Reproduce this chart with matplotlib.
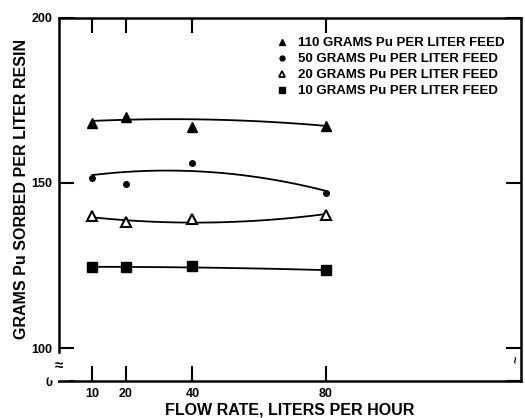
import numpy as np
import matplotlib.pyplot as plt
from matplotlib.lines import Line2D

plt.rcParams['font.family'] = ['Liberation Sans', 'DejaVu Sans']
plt.rcParams['font.weight'] = 'bold'

# flow rate, liters per hour
flow = [10, 20, 40, 80]

# grams Pu sorbed per liter resin
pu110 = [168.2, 170.0, 167.0, 167.3]
pu50 = [151.5, 149.7, 156.0, 147.0]
pu20 = [140.0, 138.2, 139.0, 140.3]
pu10 = [124.5, 124.5, 124.8, 123.6]

# hand drawn smoothing curves, read at 10, 40 and 80 L/h
curve_x = [10, 40, 80]
curve110 = [168.8, 169.3, 167.3]
curve50 = [152.4, 153.6, 147.6]
curve20 = [139.6, 138.0, 140.6]
curve10 = [124.6, 124.4, 123.6]

labels = ['110 GRAMS Pu PER LITER FEED', '50 GRAMS Pu PER LITER FEED',
          '20 GRAMS Pu PER LITER FEED', '10 GRAMS Pu PER LITER FEED']

fig = plt.figure(figsize=(5.25, 4.18), dpi=100)
ax = fig.add_axes([0.1124, 0.0885, 0.88, 0.8685])

xs = np.linspace(10, 80, 100)
for cv in [curve110, curve50, curve20, curve10]:
    c = np.polyfit(curve_x, cv, 2)
    ax.plot(xs, np.polyval(c, xs), color='black', lw=1.3)

ax.plot(flow, pu110, '^', color='black', ms=6.5, ls='none')
ax.plot(flow, pu50, 'o', color='black', ms=4, ls='none')
ax.plot(flow, pu20, '^', mfc='white', mec='black', mew=1.5, ms=6.5, ls='none')
ax.plot(flow, pu10, 's', color='black', ms=6.5, ls='none')

handles = [Line2D([], [], marker='^', color='black', ls='none', ms=5),
           Line2D([], [], marker='o', color='black', ls='none', ms=3.5),
           Line2D([], [], marker='^', mfc='white', mec='black', mew=1.3, ls='none', ms=5),
           Line2D([], [], marker='s', color='black', ls='none', ms=5)]
ax.legend(handles, labels, loc='upper right', frameon=False, fontsize=9.5,
          handlelength=0.8, handletextpad=0.8, labelspacing=0.28,
          bbox_to_anchor=(0.99, 0.98))

ax.set_xlim(0, 138.5)
ax.set_ylim(90, 200)
ax.set_xticks(flow)
ax.set_xticklabels(['10', '20', '40', '80'])
ax.set_yticks([90, 100, 150, 200])
ax.set_yticklabels(['0', '100', '150', '200'])
ax.tick_params(direction='in', length=11, width=1.5, labelsize=9,
               top=True, right=True, pad=5)
for s in ax.spines.values():
    s.set_linewidth(1.8)

# axis break marks
ax.text(0, 94.5, '≈', ha='center', va='center',
        fontsize=11, backgroundcolor='white', clip_on=False)
ax.text(137.3, 96.5, '~', ha='center', va='center', rotation=90,
        fontsize=9, clip_on=False)

ax.set_xlabel('FLOW RATE, LITERS PER HOUR', fontsize=11.5, fontweight='bold', labelpad=2)
ax.set_ylabel('GRAMS Pu SORBED PER LITER RESIN', fontsize=11.5, fontweight='bold')
ax.yaxis.set_label_coords(-0.065, 0.53)

fig.savefig('out.png', dpi=100)
